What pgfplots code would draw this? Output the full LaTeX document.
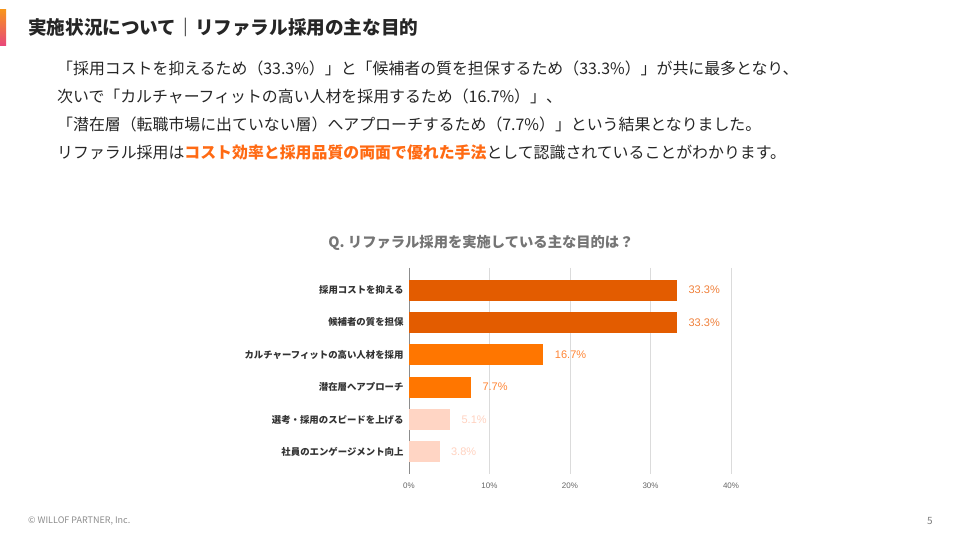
\documentclass[border=0pt]{standalone}
\usepackage{fontspec}
\setmainfont{Noto Sans CJK JP}
\newfontfamily\numfont{Liberation Sans}
\usepackage{pgfplots}
\pgfplotsset{compat=1.18}

\definecolor{accentTop}{HTML}{F7931E}
\definecolor{accentBottom}{HTML}{E8467C}
\definecolor{bodytext}{HTML}{262626}
\definecolor{highlight}{HTML}{FF6A13}
\definecolor{barDark}{HTML}{E35C00}
\definecolor{barMid}{HTML}{FF7600}
\definecolor{barLight}{HTML}{FFD5C4}
\definecolor{labDark}{HTML}{F0803A}
\definecolor{labMid}{HTML}{FF8534}
\definecolor{labLight}{HTML}{FFD2C0}
\definecolor{qtitle}{HTML}{757575}
\definecolor{catlabel}{HTML}{333333}

\pgfplotsset{
  purposebar/.style={
    draw=none, fill=#1, bar shift=0pt, bar width=21pt,
    nodes near coords={\pgfmathprintnumber[fixed,fixed zerofill,precision=1,assume math mode=true]{\pgfplotspointmeta}\%},
  },
}

\begin{document}
\begin{tikzpicture}[x=1pt,y=1pt]
\path[fill=white,use as bounding box] (0,0) rectangle (960,540);

% page header
\shade[top color=accentTop,bottom color=accentBottom] (0,530) rectangle (6,494);
\node[anchor=west,inner sep=0pt,text=bodytext,font=\bfseries\fontsize{18.6}{20}\selectfont]
  at (28,513) {実施状況について｜リファラル採用の主な目的};

% summary text
\begin{scope}[every node/.style={anchor=west,inner sep=0pt,text=bodytext,font=\fontsize{15.9}{18}\selectfont}]
\node at (57,472) {「採用コストを抑えるため（33.3\%）」と「候補者の質を担保するため（33.3\%）」が共に最多となり、};
\node at (57,444) {次いで「カルチャーフィットの高い人材を採用するため（16.7\%）」、};
\node at (57,416) {「潜在層（転職市場に出ていない層）へアプローチするため（7.7\%）」という結果となりました。};
\node at (57,388) {リファラル採用は{\color{highlight}\bfseries コスト効率と採用品質の両面で優れた手法}として認識されていることがわかります。};
\end{scope}

% chart title
\node[text=qtitle,font=\bfseries\fontsize{14.3}{16}\selectfont] at (481,297)
  {Q. リファラル採用を実施している主な目的は？};

\begin{axis}[
  at={(409pt,66pt)}, anchor=south west,
  scale only axis, width=322pt, height=206pt,
  xbar,
  xmin=0, xmax=40,
  ymin=-0.68, ymax=5.68,
  y dir=reverse,
  xtick={0,10,20,30,40},
  xticklabels={0\%,10\%,20\%,30\%,40\%},
  ytick={0,1,2,3,4,5},
  yticklabels={採用コストを抑える,候補者の質を担保,カルチャーフィットの高い人材を採用,潜在層へアプローチ,選考・採用のスピードを上げる,社員のエンゲージメント向上},
  major tick length=0pt,
  xmajorgrids,
  grid style={draw=black!14,line width=0.7pt},
  axis x line*=bottom, axis y line*=left,
  x axis line style={draw=none},
  y axis line style={draw=black!45,line width=0.8pt,-},
  xticklabel style={font=\numfont\fontsize{8}{9}\selectfont,text=black!60,yshift=-5pt},
  yticklabel style={font=\bfseries\fontsize{9.4}{10}\selectfont,text=catlabel,xshift=-2pt},
  every node near coord/.append style={font=\numfont\fontsize{11}{12}\selectfont,xshift=8pt},
  clip=false,
]
\addplot[purposebar=barDark, every node near coord/.append style={text=labDark}] coordinates {(33.3,0)};
\addplot[purposebar=barDark, every node near coord/.append style={text=labDark}] coordinates {(33.3,1)};
\addplot[purposebar=barMid, every node near coord/.append style={text=labMid}] coordinates {(16.7,2)};
\addplot[purposebar=barMid, every node near coord/.append style={text=labMid}] coordinates {(7.7,3)};
\addplot[purposebar=barLight, every node near coord/.append style={text=labLight}] coordinates {(5.1,4)};
\addplot[purposebar=barLight, every node near coord/.append style={text=labLight}] coordinates {(3.8,5)};
\end{axis}

% footer
\node[anchor=west,inner sep=0pt,text=black!45,font=\fontsize{9}{10}\selectfont] at (28,19) {© WILLOF PARTNER, Inc.};
\node[inner sep=0pt,text=black!50,font=\fontsize{10}{11}\selectfont] at (930,19) {5};
\end{tikzpicture}
\end{document}
